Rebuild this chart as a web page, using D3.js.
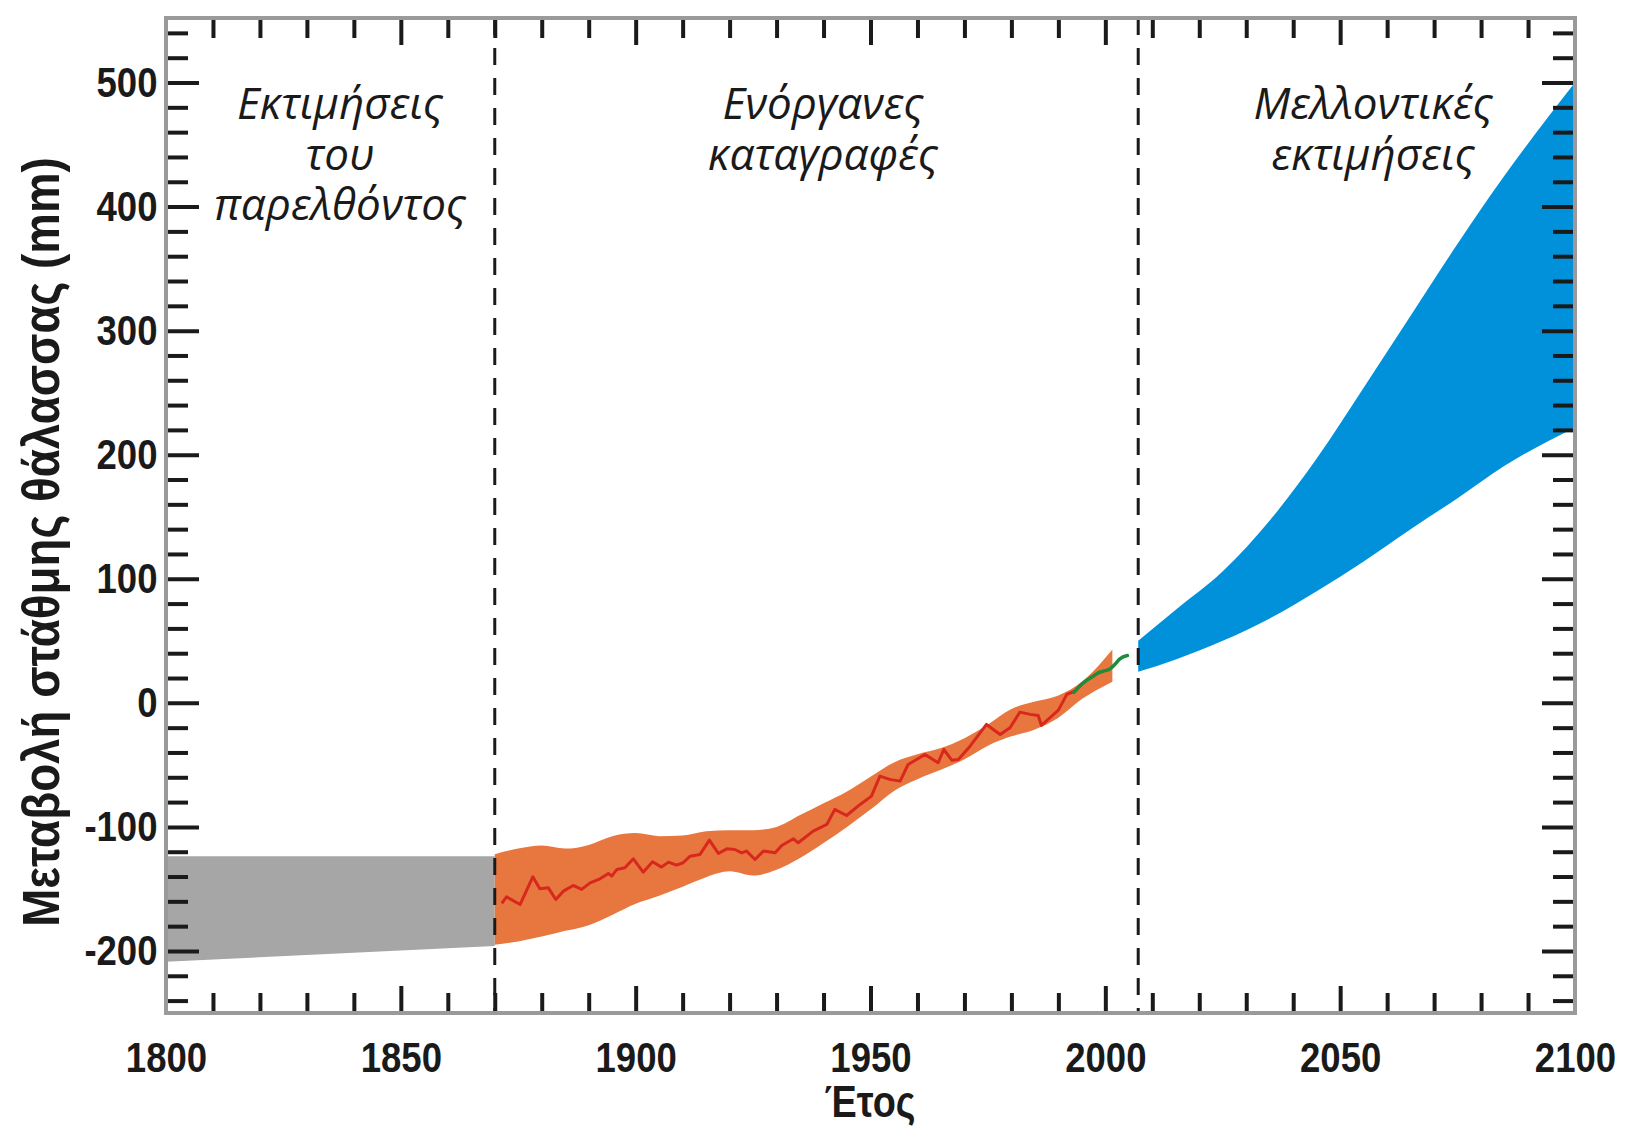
<!DOCTYPE html>
<html>
<head>
<meta charset="utf-8">
<script src="https://cdn.jsdelivr.net/npm/d3@7"></script>
<style>
  body { margin: 0; background: #fff; }
</style>
</head>
<body>
<svg id="chart" width="1627" height="1129"></svg>
<script>
// --- Dữ liệu ---
// Εκτιμήσεις του παρελθόντος (γκρι)
const pastYears = [1800, 1870];
const pastHigh = [-123.6, -123.6];
const pastLow = [-208.7, -196];

// Ενόργανες καταγραφές: ζώνη αβεβαιότητας (πορτοκαλί)
const instrYears = [1870, 1875, 1880, 1885, 1890, 1895, 1900, 1905, 1910, 1915, 1920, 1925, 1930,
                    1935, 1940, 1945, 1950, 1955, 1960, 1965, 1970, 1975, 1980, 1985, 1990, 1995, 2001.5];
const instrHigh = [-122, -117.5, -115, -117.5, -114.5, -107.5, -105, -107.5, -107, -103.5, -102.6, -102.6, -100,
                   -90.5, -81, -71.5, -59.5, -48, -41.5, -36.5, -28.5, -17.5, -5, 1, 6, 17, 43];
const instrLow = [-195, -192.3, -188.4, -183.8, -179.2, -171, -162, -155.5, -148.2, -140.5, -135.8, -139.2, -134.5,
                  -125, -113, -100, -86, -71, -61.5, -54, -45.5, -34.5, -27, -21.5, -12, 3, 17];

// παλιρροιογράφοι (κόκκινη γραμμή)
const tideYears = [1871.5, 1872.5, 1875.4, 1878.1, 1879.6, 1881.4, 1883.0, 1884.6, 1886.7, 1888.5, 1890.3,
                   1892.4, 1894.2, 1894.9, 1896.0, 1897.7, 1899.5, 1901.6, 1903.6, 1905.5, 1907.0, 1908.7,
                   1910.1, 1911.6, 1913.7, 1915.7, 1917.6, 1919.4, 1921.1, 1922.6, 1923.6, 1925.4, 1927.2,
                   1929.7, 1931.1, 1933.6, 1934.6, 1937.8, 1940.7, 1942.4, 1944.9, 1947.8, 1950.2, 1952.0,
                   1954.1, 1956.3, 1958.0, 1961.6, 1964.4, 1965.6, 1967.3, 1968.7, 1971.2, 1974.7, 1977.6,
                   1979.7, 1981.8, 1984.0, 1985.7, 1986.4, 1990.0, 1991.8, 1993.5];
const tideValues = [-161.7, -156.4, -162.5, -140.2, -149.9, -149.1, -158.5, -151.8, -147.2, -150.4, -145.1,
                    -141.8, -137.5, -139.7, -134.3, -133.0, -125.7, -136.5, -128.1, -132.4, -128.4, -130.8,
                    -128.9, -123.6, -122.2, -110.7, -121.4, -117.7, -118.2, -120.9, -119.5, -126.3, -119.5,
                    -120.9, -115.0, -109.6, -112.8, -103.4, -98.0, -85.9, -90.8, -81.9, -75.2, -59.1,
                    -61.7, -63.1, -49.7, -41.6, -48.3, -37.6, -46.2, -45.6, -34.9, -17.4, -25.5,
                    -20.1, -7.5, -9.3, -10.2, -18.2, -5.9, 6.8, 9.5];

// δορυφορικές μετρήσεις (πράσινη γραμμή)
const satYears = [1993.3, 1995.3, 1997.4, 1998.5, 1999.6, 2001.0, 2002.0, 2003.1, 2004.7];
const satValues = [8.5, 16.1, 21.5, 24.2, 25.5, 27.4, 30.9, 35.5, 38.1];

// Μελλοντικές εκτιμήσεις (μπλε)
const projYears = [2007, 2015, 2025, 2035, 2045, 2055, 2065, 2075, 2085, 2100];
const projHigh = [50, 75, 106, 147, 197, 254, 312, 370, 425, 500];
const projLow = [25, 35, 50, 68, 90, 114, 140, 165, 191, 222];

const dividerYears = [1870, 2007];
const xLabels = [1800, 1850, 1900, 1950, 2000, 2050, 2100];
const yLabels = [-200, -100, 0, 100, 200, 300, 400, 500];

// --- Vẽ ---
const svg = d3.select("#chart"),
      margin = {top: 18, right: 52, bottom: 116, left: 166},
      width = +svg.attr("width") - margin.left - margin.right,
      height = +svg.attr("height") - margin.top - margin.bottom;

const g = svg.append("g").attr("transform", `translate(${margin.left},${margin.top})`);

const x = d3.scaleLinear().domain([1800, 2100]).range([0, width]);
const y = d3.scaleLinear().domain([-250, 552]).range([height, 0]);

const band = (years, hi, lo) => years.map((yr, i) => ({year: yr, hi: hi[i], lo: lo[i]}));
const pts = (years, vals) => years.map((yr, i) => ({year: yr, v: vals[i]}));

const area = d3.area().x(d => x(d.year)).y0(d => y(d.lo)).y1(d => y(d.hi));
const line = d3.line().x(d => x(d.year)).y(d => y(d.v));

// vùng xám
g.append("path").datum(band(pastYears, pastHigh, pastLow))
  .attr("fill", "#a6a6a6").attr("d", area);

// vùng cam
g.append("path").datum(band(instrYears, instrHigh, instrLow))
  .attr("fill", "#e8773f").attr("d", area.curve(d3.curveMonotoneX));

// vùng xanh
g.append("path").datum(band(projYears, projHigh, projLow))
  .attr("fill", "#0091da").attr("d", area.curve(d3.curveMonotoneX));

// đường đỏ
g.append("path").datum(pts(tideYears, tideValues))
  .attr("fill", "none").attr("stroke", "#d8281e").attr("stroke-width", 3)
  .attr("stroke-linejoin", "round").attr("d", line);

// đường xanh lá
g.append("path").datum(pts(satYears, satValues))
  .attr("fill", "none").attr("stroke", "#1e8c3a").attr("stroke-width", 3.5)
  .attr("stroke-linecap", "round").attr("stroke-linejoin", "round")
  .attr("d", line.curve(d3.curveMonotoneX));

// đường phân chia
g.selectAll("line.divider").data(dividerYears).enter().append("line")
  .attr("class", "divider")
  .attr("x1", d => x(d)).attr("x2", d => x(d))
  .attr("y1", 0).attr("y2", height)
  .attr("stroke", "#1a1a1a").attr("stroke-width", 3)
  .attr("stroke-dasharray", "17,13");

// vạch chia
const styleTicks = sel => {
  sel.select(".domain").remove();
  sel.selectAll("line").attr("stroke", "#1a1a1a").attr("stroke-width", 4);
};
const minorX = d3.range(1810, 2100, 10).filter(d => d % 50 !== 0);
const majorX = d3.range(1850, 2100, 50);
const minorY = d3.range(-240, 541, 20).filter(d => d % 100 !== 0);

g.append("g").call(d3.axisTop(x).tickValues(minorX).tickSize(-20).tickFormat("")).call(styleTicks);
g.append("g").call(d3.axisTop(x).tickValues(majorX).tickSize(-27).tickFormat("")).call(styleTicks);
g.append("g").attr("transform", `translate(0,${height})`)
  .call(d3.axisBottom(x).tickValues(minorX).tickSize(-20).tickFormat("")).call(styleTicks);
g.append("g").attr("transform", `translate(0,${height})`)
  .call(d3.axisBottom(x).tickValues(majorX).tickSize(-27).tickFormat("")).call(styleTicks);

g.append("g").call(d3.axisLeft(y).tickValues(minorY).tickSize(-22).tickFormat("")).call(styleTicks);
g.append("g").call(d3.axisLeft(y).tickValues(yLabels).tickSize(-33).tickFormat("")).call(styleTicks);
g.append("g").attr("transform", `translate(${width},0)`)
  .call(d3.axisRight(y).tickValues(minorY).tickSize(-22).tickFormat("")).call(styleTicks);
g.append("g").attr("transform", `translate(${width},0)`)
  .call(d3.axisRight(y).tickValues(yLabels).tickSize(-33).tickFormat("")).call(styleTicks);

// khung
g.append("rect").attr("x", 0).attr("y", 0).attr("width", width).attr("height", height)
  .attr("fill", "none").attr("stroke", "#9a9a9a").attr("stroke-width", 4);

// nhãn trục (chữ hẹp: co ngang)
const labelFont = sel => sel.selectAll("text")
  .style("font-family", "'Liberation Sans', Arial, sans-serif")
  .style("font-weight", "bold").style("font-size", "43px").attr("fill", "#1a1a1a")
  .attr("transform", "scale(0.85,1)");

g.append("g").attr("transform", `translate(0,${height})`)
  .call(d3.axisBottom(x).tickValues(xLabels).tickSize(0).tickPadding(28).tickFormat(d3.format("d")))
  .call(sel => sel.select(".domain").remove())
  .call(labelFont);

g.append("g")
  .call(d3.axisLeft(y).tickValues(yLabels).tickSize(0).tickPadding(10).tickFormat(d => String(d)))
  .call(sel => sel.select(".domain").remove())
  .call(labelFont);

// tiêu đề trục
svg.append("text")
  .attr("transform", `translate(59,542) rotate(-90) scale(0.88,1)`)
  .attr("text-anchor", "middle")
  .style("font-family", "'Liberation Sans', Arial, sans-serif")
  .style("font-weight", "bold").style("font-size", "52px").attr("fill", "#1a1a1a")
  .text("Μεταβολή στάθμης θάλασσας (mm)");

svg.append("text")
  .attr("transform", "translate(870,1117) scale(0.86,1)")
  .attr("text-anchor", "middle")
  .style("font-family", "'Liberation Sans', Arial, sans-serif")
  .style("font-weight", "bold").style("font-size", "44px").attr("fill", "#1a1a1a")
  .text("Έτος");

// nhãn vùng
const regionLabels = [
  {cx: 340, lines: ["Εκτιμήσεις", "του", "παρελθόντος"]},
  {cx: 823, lines: ["Ενόργανες", "καταγραφές"]},
  {cx: 1373, lines: ["Μελλοντικές", "εκτιμήσεις"]}
];
regionLabels.forEach(r => {
  svg.append("text")
    .attr("text-anchor", "middle")
    .style("font-family", "'Open Sans', sans-serif")
    .style("font-style", "italic").style("font-size", "44px").attr("fill", "#1a1a1a")
    .selectAll("tspan").data(r.lines).enter().append("tspan")
      .attr("x", r.cx).attr("y", (d, i) => 119 + i * 50.5)
      .text(d => d);
});
</script>
</body>
</html>
